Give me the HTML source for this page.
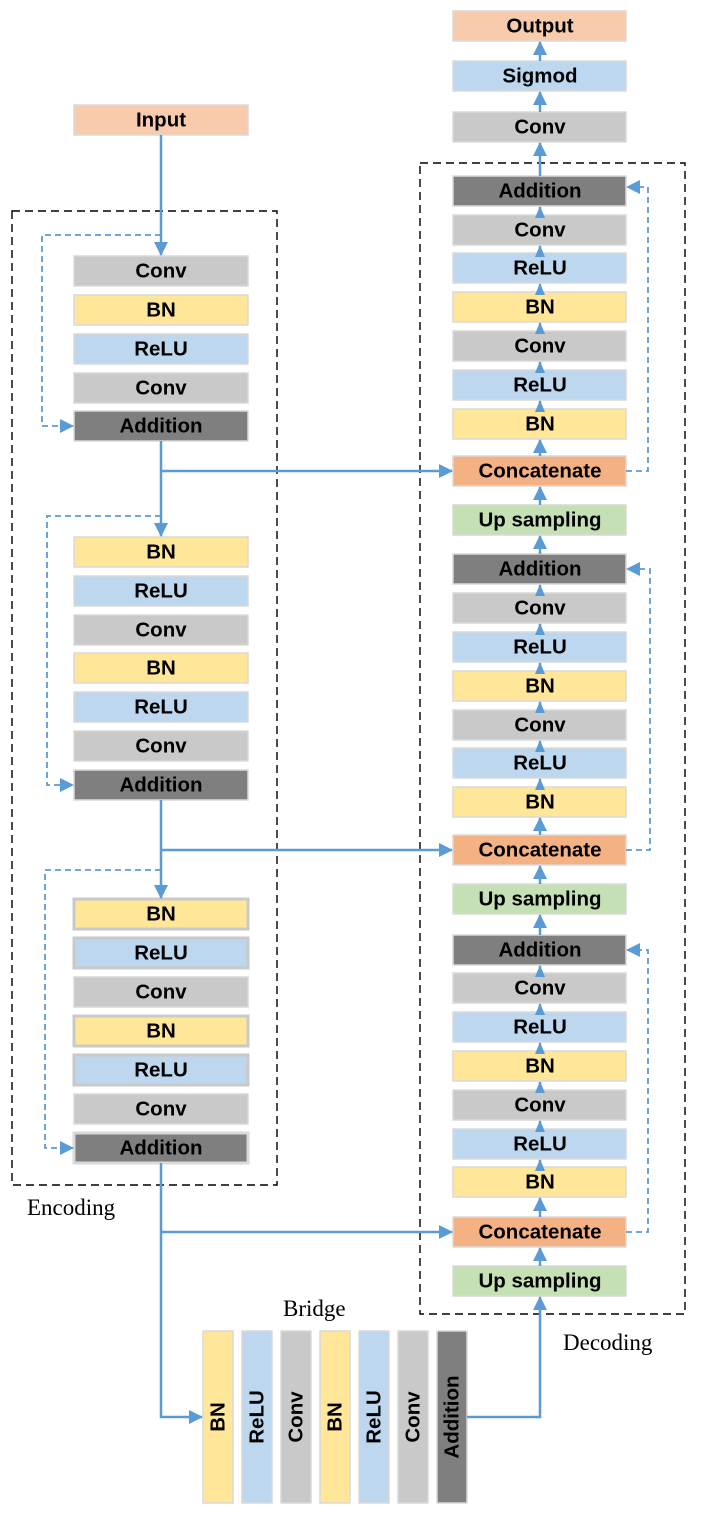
<!DOCTYPE html>
<html><head><meta charset="utf-8"><style>
html,body{margin:0;padding:0;background:#fff;}
svg{display:block;}
.t{font-family:"Liberation Sans",sans-serif;font-weight:bold;font-size:20.5px;fill:#000;text-anchor:middle;dominant-baseline:central;}
.s{font-family:"Liberation Serif",serif;font-size:23px;fill:#000;}
.g{fill:#C9C9C9}.y{fill:#FFE699}.b{fill:#BDD7EE}.a{fill:#7F7F7F}.u{fill:#C5E0B4}.c{fill:#F4B183}.o{fill:#F8CBAD}
rect.bx{stroke:#D9D9D9;stroke-width:1.5}
.ln{stroke:#5B9BD5;stroke-width:2.5;fill:none}
.dl{stroke:#5B9BD5;stroke-width:1.8;fill:none;stroke-dasharray:6,4}
.bd{stroke:#000;stroke-width:1.4;fill:none;stroke-dasharray:8,5}
</style></head><body>
<svg width="722" height="1513" viewBox="0 0 722 1513" xmlns="http://www.w3.org/2000/svg">
<defs>
<marker id="ar" markerWidth="12" markerHeight="10" refX="11" refY="5" orient="auto" markerUnits="userSpaceOnUse" viewBox="0 0 12 10"><path d="M0,0 L12,5 L0,10 z" fill="#5B9BD5"/></marker>
<marker id="ar2" markerWidth="14" markerHeight="14" refX="13" refY="7" orient="auto" markerUnits="userSpaceOnUse" viewBox="0 0 14 14"><path d="M0,0 L14,7 L0,14 z" fill="#5B9BD5"/></marker>
</defs>

<rect class="bd" x="12" y="211" width="265" height="974"/>
<rect class="bd" x="420" y="163" width="265" height="1151"/>
<text class="s" x="27" y="1215">Encoding</text>
<text class="s" x="563" y="1350">Decoding</text>
<text class="s" x="283" y="1316">Bridge</text>

<g>
<rect class="bx o" x="74" y="105" width="174" height="30"/><text class="t" x="161" y="120">Input</text>

<rect class="bx g" x="74" y="256" width="174" height="30"/><text class="t" x="161" y="271">Conv</text>
<rect class="bx y" x="74" y="295" width="174" height="30"/><text class="t" x="161" y="310">BN</text>
<rect class="bx b" x="74" y="334" width="174" height="30"/><text class="t" x="161" y="349">ReLU</text>
<rect class="bx g" x="74" y="373" width="174" height="30"/><text class="t" x="161" y="388">Conv</text>
<rect class="bx a" x="74" y="411" width="174" height="30"/><text class="t" x="161" y="426">Addition</text>

<rect class="bx y" x="74" y="537" width="174" height="30"/><text class="t" x="161" y="552">BN</text>
<rect class="bx b" x="74" y="576" width="174" height="30"/><text class="t" x="161" y="591">ReLU</text>
<rect class="bx g" x="74" y="615" width="174" height="30"/><text class="t" x="161" y="630">Conv</text>
<rect class="bx y" x="74" y="653" width="174" height="30"/><text class="t" x="161" y="668">BN</text>
<rect class="bx b" x="74" y="692" width="174" height="30"/><text class="t" x="161" y="707">ReLU</text>
<rect class="bx g" x="74" y="731" width="174" height="30"/><text class="t" x="161" y="746">Conv</text>
<rect class="bx a" x="74" y="770" width="174" height="30"/><text class="t" x="161" y="785">Addition</text>

<rect class="bx y" x="74" y="899" width="174" height="30" style="stroke:#C9C9C9;stroke-width:3"/><text class="t" x="161" y="914">BN</text>
<rect class="bx b" x="74" y="938" width="174" height="30" style="stroke:#C9C9C9;stroke-width:3"/><text class="t" x="161" y="953">ReLU</text>
<rect class="bx g" x="74" y="977" width="174" height="30"/><text class="t" x="161" y="992">Conv</text>
<rect class="bx y" x="74" y="1016" width="174" height="30" style="stroke:#C9C9C9;stroke-width:3"/><text class="t" x="161" y="1031">BN</text>
<rect class="bx b" x="74" y="1055" width="174" height="30" style="stroke:#C9C9C9;stroke-width:3"/><text class="t" x="161" y="1070">ReLU</text>
<rect class="bx g" x="74" y="1094" width="174" height="30"/><text class="t" x="161" y="1109">Conv</text>
<rect class="bx a" x="74" y="1133" width="174" height="30" style="stroke:#D9D9D9;stroke-width:3"/><text class="t" x="161" y="1148">Addition</text>
</g>

<g>
<rect class="bx o" x="453" y="11" width="173" height="30"/><text class="t" x="540" y="26">Output</text>
<rect class="bx b" x="453" y="61" width="173" height="30"/><text class="t" x="540" y="76">Sigmod</text>
<rect class="bx g" x="453" y="112" width="173" height="30"/><text class="t" x="540" y="127">Conv</text>

<rect class="bx a" x="453" y="176" width="173" height="30"/><text class="t" x="540" y="191">Addition</text>
<rect class="bx g" x="453" y="215" width="173" height="30"/><text class="t" x="540" y="230">Conv</text>
<rect class="bx b" x="453" y="253" width="173" height="30"/><text class="t" x="540" y="268">ReLU</text>
<rect class="bx y" x="453" y="292" width="173" height="30"/><text class="t" x="540" y="307">BN</text>
<rect class="bx g" x="453" y="331" width="173" height="30"/><text class="t" x="540" y="346">Conv</text>
<rect class="bx b" x="453" y="370" width="173" height="30"/><text class="t" x="540" y="385">ReLU</text>
<rect class="bx y" x="453" y="409" width="173" height="30"/><text class="t" x="540" y="424">BN</text>
<rect class="bx c" x="453" y="456" width="173" height="30"/><text class="t" x="540" y="471">Concatenate</text>
<rect class="bx u" x="453" y="505" width="173" height="30"/><text class="t" x="540" y="520">Up sampling</text>

<rect class="bx a" x="453" y="554" width="173" height="30"/><text class="t" x="540" y="569">Addition</text>
<rect class="bx g" x="453" y="593" width="173" height="30"/><text class="t" x="540" y="608">Conv</text>
<rect class="bx b" x="453" y="632" width="173" height="30"/><text class="t" x="540" y="647">ReLU</text>
<rect class="bx y" x="453" y="671" width="173" height="30"/><text class="t" x="540" y="686">BN</text>
<rect class="bx g" x="453" y="710" width="173" height="30"/><text class="t" x="540" y="725">Conv</text>
<rect class="bx b" x="453" y="748" width="173" height="30"/><text class="t" x="540" y="763">ReLU</text>
<rect class="bx y" x="453" y="787" width="173" height="30"/><text class="t" x="540" y="802">BN</text>
<rect class="bx c" x="453" y="835" width="173" height="30"/><text class="t" x="540" y="850">Concatenate</text>
<rect class="bx u" x="453" y="884" width="173" height="30"/><text class="t" x="540" y="899">Up sampling</text>

<rect class="bx a" x="453" y="935" width="173" height="30"/><text class="t" x="540" y="950">Addition</text>
<rect class="bx g" x="453" y="973" width="173" height="30"/><text class="t" x="540" y="988">Conv</text>
<rect class="bx b" x="453" y="1012" width="173" height="30"/><text class="t" x="540" y="1027">ReLU</text>
<rect class="bx y" x="453" y="1051" width="173" height="30"/><text class="t" x="540" y="1066">BN</text>
<rect class="bx g" x="453" y="1090" width="173" height="30"/><text class="t" x="540" y="1105">Conv</text>
<rect class="bx b" x="453" y="1129" width="173" height="30"/><text class="t" x="540" y="1144">ReLU</text>
<rect class="bx y" x="453" y="1167" width="173" height="30"/><text class="t" x="540" y="1182">BN</text>
<rect class="bx c" x="453" y="1217" width="173" height="30"/><text class="t" x="540" y="1232">Concatenate</text>
<rect class="bx u" x="453" y="1266" width="173" height="30"/><text class="t" x="540" y="1281">Up sampling</text>
</g>

<g>
<rect class="bx y" x="203" y="1331" width="30" height="172"/><text class="t" transform="translate(218,1417) rotate(-90)">BN</text>
<rect class="bx b" x="242" y="1331" width="30" height="172"/><text class="t" transform="translate(257,1417) rotate(-90)">ReLU</text>
<rect class="bx g" x="281" y="1331" width="30" height="172"/><text class="t" transform="translate(296,1417) rotate(-90)">Conv</text>
<rect class="bx y" x="320" y="1331" width="30" height="172"/><text class="t" transform="translate(335,1417) rotate(-90)">BN</text>
<rect class="bx b" x="359" y="1331" width="30" height="172"/><text class="t" transform="translate(374,1417) rotate(-90)">ReLU</text>
<rect class="bx g" x="398" y="1331" width="30" height="172"/><text class="t" transform="translate(413,1417) rotate(-90)">Conv</text>
<rect class="bx a" x="437" y="1331" width="30" height="172"/><text class="t" transform="translate(452,1417) rotate(-90)">Addition</text>
</g>

<path class="ln" d="M161,135 V255" marker-end="url(#ar2)"/>
<path class="ln" d="M161,441 V536" marker-end="url(#ar2)"/>
<path class="ln" d="M161,471 H452" marker-end="url(#ar2)"/>
<path class="ln" d="M161,800 V898" marker-end="url(#ar2)"/>
<path class="ln" d="M161,850 H452" marker-end="url(#ar2)"/>
<path class="ln" d="M161,1163 V1417 H202" marker-end="url(#ar2)"/>
<path class="ln" d="M161,1232 H452" marker-end="url(#ar2)"/>
<path class="ln" d="M467,1417 H540 V1297" marker-end="url(#ar2)"/>

<path class="dl" d="M161,235 H42 V426 H73" marker-end="url(#ar2)"/>
<path class="dl" d="M161,516 H47 V785 H73" marker-end="url(#ar2)"/>
<path class="dl" d="M161,870 H45 V1148 H73" marker-end="url(#ar2)"/>

<path class="dl" d="M626,471 H648 V187 H627" marker-end="url(#ar2)"/>
<path class="dl" d="M626,850 H650 V569 H627" marker-end="url(#ar2)"/>
<path class="dl" d="M626,1232 H648 V950 H627" marker-end="url(#ar2)"/>

<g>
<path class="ln" d="M540,61 V42" marker-end="url(#ar2)"/>
<path class="ln" d="M540,112 V92" marker-end="url(#ar2)"/>
<path class="ln" d="M540,176 V143" marker-end="url(#ar2)"/>
<path class="ln" d="M540,456 V440" marker-end="url(#ar2)"/>
<path class="ln" d="M540,505 V487" marker-end="url(#ar2)"/>
<path class="ln" d="M540,554 V536" marker-end="url(#ar2)"/>
<path class="ln" d="M540,835 V818" marker-end="url(#ar2)"/>
<path class="ln" d="M540,884 V866" marker-end="url(#ar2)"/>
<path class="ln" d="M540,935 V915" marker-end="url(#ar2)"/>
<path class="ln" d="M540,1217 V1198" marker-end="url(#ar2)"/>
<path class="ln" d="M540,1266 V1248" marker-end="url(#ar2)"/>
</g>
<g>
<path class="ln" d="M540,215 V207" marker-end="url(#ar)"/>
<path class="ln" d="M540,253 V246" marker-end="url(#ar)"/>
<path class="ln" d="M540,292 V284" marker-end="url(#ar)"/>
<path class="ln" d="M540,331 V323" marker-end="url(#ar)"/>
<path class="ln" d="M540,370 V362" marker-end="url(#ar)"/>
<path class="ln" d="M540,409 V401" marker-end="url(#ar)"/>
<path class="ln" d="M540,593 V585" marker-end="url(#ar)"/>
<path class="ln" d="M540,632 V624" marker-end="url(#ar)"/>
<path class="ln" d="M540,671 V663" marker-end="url(#ar)"/>
<path class="ln" d="M540,710 V702" marker-end="url(#ar)"/>
<path class="ln" d="M540,748 V741" marker-end="url(#ar)"/>
<path class="ln" d="M540,787 V779" marker-end="url(#ar)"/>
<path class="ln" d="M540,973 V966" marker-end="url(#ar)"/>
<path class="ln" d="M540,1012 V1004" marker-end="url(#ar)"/>
<path class="ln" d="M540,1051 V1043" marker-end="url(#ar)"/>
<path class="ln" d="M540,1090 V1082" marker-end="url(#ar)"/>
<path class="ln" d="M540,1129 V1121" marker-end="url(#ar)"/>
<path class="ln" d="M540,1167 V1160" marker-end="url(#ar)"/>
</g>
</svg>
</body></html>
